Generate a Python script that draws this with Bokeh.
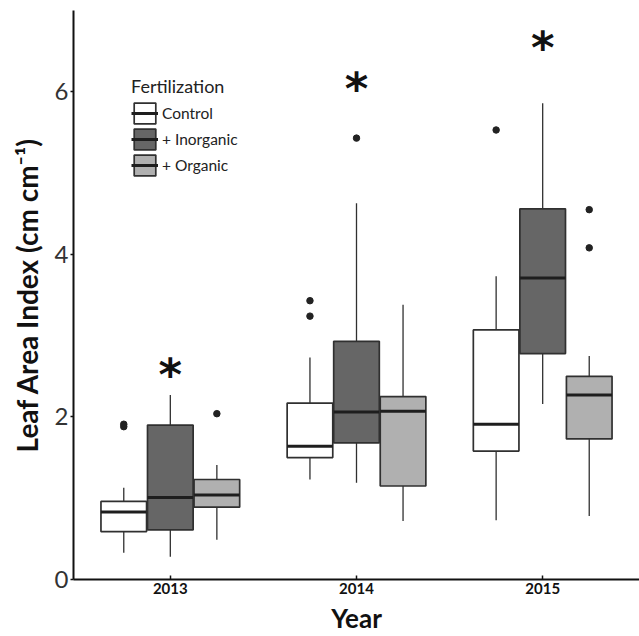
from bokeh.plotting import figure
from bokeh.models import ColumnDataSource, FixedTicker, Legend, LegendItem, Range1d
from bokeh.core.properties import value
from bokeh.embed import file_html
from bokeh.resources import INLINE

# ---------------- data ----------------
years = ["2013", "2014", "2015"]
treatments = ["Control", "+ Inorganic", "+ Organic"]
fills = ["#ffffff", "#666666", "#b0b0b0"]

# per treatment, one value per year
q1 = {"Control": [0.59, 1.50, 1.58],
      "+ Inorganic": [0.61, 1.68, 2.78],
      "+ Organic": [0.89, 1.15, 1.73]}
median = {"Control": [0.83, 1.64, 1.91],
          "+ Inorganic": [1.01, 2.06, 3.71],
          "+ Organic": [1.04, 2.07, 2.27]}
q3 = {"Control": [0.96, 2.17, 3.07],
      "+ Inorganic": [1.90, 2.93, 4.56],
      "+ Organic": [1.23, 2.25, 2.50]}
whisker_lo = {"Control": [0.33, 1.23, 0.73],
              "+ Inorganic": [0.28, 1.19, 2.16],
              "+ Organic": [0.49, 0.72, 0.78]}
whisker_hi = {"Control": [1.13, 2.73, 3.73],
              "+ Inorganic": [2.27, 4.63, 5.86],
              "+ Organic": [1.41, 3.38, 2.75]}

# outliers: treatment, year, value
outlier_treat = ["Control", "Control", "Control", "Control", "+ Inorganic",
                 "+ Organic", "Control", "+ Organic", "+ Organic"]
outlier_year = ["2013", "2013", "2014", "2014", "2014",
                "2013", "2015", "2015", "2015"]
outlier_val = [1.88, 1.91, 3.24, 3.43, 5.43, 2.04, 5.53, 4.08, 4.55]

# significance stars (above + Inorganic)
star_years = ["2013", "2014", "2015"]
star_y = [2.63, 6.15, 6.65]

y_ticks = [0, 2, 4, 6]

# ---------------- figure ----------------
p = figure(width=639, height=636, output_backend="svg", toolbar_location=None,
           x_range=Range1d(0.48, 3.52), y_range=Range1d(0, 7.0),
           min_border_left=73, min_border_right=0, min_border_top=10,
           min_border_bottom=57)
p.outline_line_color = None
p.xgrid.visible = False
p.ygrid.visible = False
p.background_fill_color = "white"
p.border_fill_color = "white"

dodge = {"Control": -0.25, "+ Inorganic": 0.0, "+ Organic": 0.25}
bw = 0.245
line_col = "#303030"

legend_items = []
for t, fc in zip(treatments, fills):
    xs = [i + 1 + dodge[t] for i in range(len(years))]
    src = ColumnDataSource(dict(
        x=xs,
        left=[x - bw / 2 for x in xs],
        right=[x + bw / 2 for x in xs],
        q1=q1[t], med=median[t], q3=q3[t],
        lo=whisker_lo[t], hi=whisker_hi[t],
    ))
    p.segment(x0="x", y0="lo", x1="x", y1="q1", source=src,
              line_color=line_col, line_width=1.3)
    p.segment(x0="x", y0="q3", x1="x", y1="hi", source=src,
              line_color=line_col, line_width=1.3)
    rb = p.quad(left="left", right="right", bottom="q1", top="q3", source=src,
                fill_color=fc, line_color=line_col, line_width=1.7)
    rm = p.segment(x0="left", y0="med", x1="right", y1="med", source=src,
                   line_color="#1e1e1e", line_width=3)
    legend_items.append(LegendItem(label=t, renderers=[rb, rm]))

ox = [years.index(y) + 1 + dodge[t] for t, y in zip(outlier_treat, outlier_year)]
p.scatter(x=ox, y=outlier_val, size=6.5, fill_color="#222222",
          line_color="#222222")

sx = [years.index(y) + 1 + dodge["+ Inorganic"] for y in star_years]
p.text(x=sx, y=star_y, text=["*"] * len(sx), text_align="center",
       text_baseline="middle", text_font=value("DejaVu Sans"),
       text_font_style="bold", text_font_size="45px", text_color="#111111",
       y_offset=9)

legend = Legend(items=legend_items, title="Fertilization", location=(58, 401),
                orientation="vertical", glyph_width=27, glyph_height=26,
                label_height=26, spacing=0, padding=0, margin=0,
                border_line_color=None, background_fill_alpha=0,
                title_text_font="Lato", title_text_font_size="18px",
                title_text_color="#222222", title_text_font_style="normal",
                title_standoff=3,
                label_text_font="Lato", label_text_font_size="15.5px",
                label_text_color="#222222", label_standoff=4)
p.add_layout(legend)

# axes
p.xaxis.ticker = FixedTicker(ticks=[1, 2, 3])
p.xaxis.major_label_overrides = {i + 1: y for i, y in enumerate(years)}
p.xaxis.major_label_text_font = "Lato"
p.xaxis.major_label_text_font_style = "bold"
p.xaxis.major_label_text_font_size = "15px"
p.xaxis.major_label_text_color = "#111111"
p.xaxis.major_tick_in = 4
p.xaxis.major_tick_out = 0
p.xaxis.major_label_standoff = 3
p.xaxis.minor_tick_line_color = None
p.xaxis.axis_label = "Year"
p.xaxis.axis_label_text_font = "Lato"
p.xaxis.axis_label_text_font_style = "bold"
p.xaxis.axis_label_text_font_size = "26px"
p.xaxis.axis_label_text_color = "#111111"
p.xaxis.axis_label_standoff = 5

p.yaxis.ticker = FixedTicker(ticks=y_ticks)
p.yaxis.major_label_text_font = "Lato"
p.yaxis.major_label_text_font_size = "24px"
p.yaxis.major_label_text_font_style = "normal"
p.yaxis.major_label_text_color = "#333333"
p.yaxis.major_tick_in = 0
p.yaxis.major_tick_out = 3
p.yaxis.major_label_standoff = 2
p.yaxis.minor_tick_line_color = None
p.yaxis.axis_label = "Leaf Area Index (cm cm\u207b\u00b9)"
p.yaxis.axis_label_text_font = "Lato"
p.yaxis.axis_label_text_font_style = "bold"
p.yaxis.axis_label_text_font_size = "28px"
p.yaxis.axis_label_text_color = "#111111"
p.yaxis.axis_label_standoff = 8

for ax in (p.xaxis, p.yaxis):
    ax.axis_line_color = "#111111"
    ax.axis_line_width = 2
    ax.major_tick_line_color = "#111111"
    ax.major_tick_line_width = 1.5

open("out.html", "w").write(file_html(p, INLINE))
